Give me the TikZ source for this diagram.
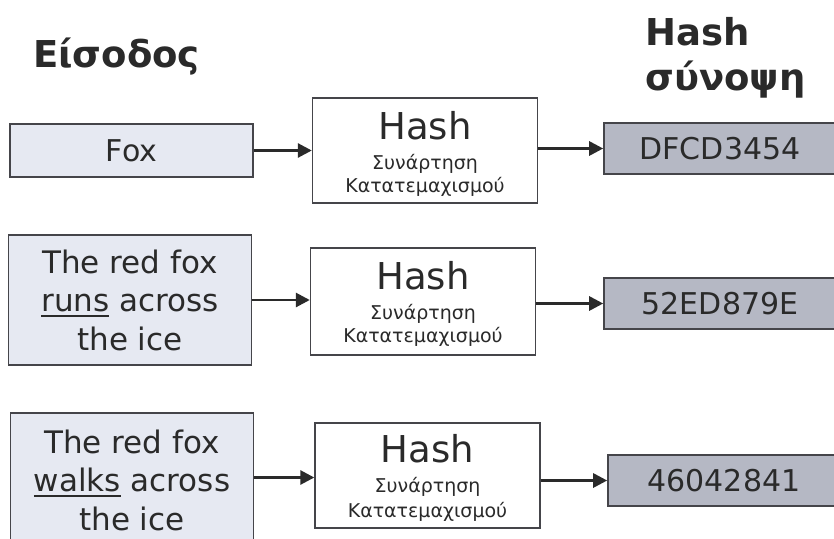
\documentclass[tikz,border=0pt]{standalone}
\usepackage{fontspec}
\setmainfont{DejaVu Sans}
\usetikzlibrary{arrows.meta}
\definecolor{infill}{HTML}{E6E9F2}
\definecolor{outfill}{HTML}{B5B8C4}
\definecolor{edge}{HTML}{45454A}
\definecolor{ink}{HTML}{2A2A2A}
\tikzset{
  inbox/.style={draw=edge, line width=1.6pt, fill=infill, minimum width=243pt, align=center, text=ink, inner sep=0pt,
     font=\fontsize{31}{38.5}\selectfont},
  hashbox/.style={draw=edge, line width=1.4pt, fill=white, minimum width=225pt, text=ink, inner sep=0pt},
  hashbig/.style={anchor=base, inner sep=0pt, text=ink, font=\fontsize{37}{40}\selectfont},
  hashsmall/.style={anchor=base, inner sep=0pt, text=ink, font=\fontsize{19}{22}\selectfont},
  outbox/.style={draw=edge, line width=1.6pt, fill=outfill, minimum width=236pt, minimum height=51pt, text=ink, inner sep=0pt,
     font=\fontsize{30}{34}\selectfont},
  conn/.style={draw=ink, line width=2.8pt, -{Triangle[length=14pt,width=14pt]}},
  head/.style={text=ink, font=\bfseries\fontsize{37}{44}\selectfont, anchor=base west, inner sep=0pt}
}
\newcommand{\myul}[1]{\setbox0\hbox{#1}\rlap{\rule[-5.5pt]{\wd0}{1.8pt}}\box0\relax}
\begin{document}
\begin{tikzpicture}[x=1pt,y=-1pt]
\useasboundingbox (0,0) rectangle (834,538);
\fill[white] (0,0) rectangle (834,538);
% headings
\node[head] (hin) at (33,67) {Είσοδος};
\node[head] (hout1) at (645,45) {Hash};
\node[head] (hout2) at (645,90) {σύνοψη};
% row 1
\node[inbox, minimum height=53pt, font=\fontsize{30}{36}\selectfont] (in1) at (131.5,150.5) {Fox};
\node[hashbox, minimum height=105pt] (h1) at (425,150.5) {};
\node[hashbig] (h1a) at ([yshift=-42pt]h1.north) {Hash};
\node[hashsmall] (h1b) at ([yshift=-72pt]h1.north) {Συνάρτηση};
\node[hashsmall] (h1c) at ([yshift=-95pt]h1.north) {Κατατεμαχισμού};
\node[outbox] (o1) at (722,148.5) {\hspace*{-4pt}DFCD3454};
% row 2
\node[inbox, minimum height=130pt] (in2) at (130,300) {The red fox\\\myul{runs} across\\the ice};
\node[hashbox, minimum height=107pt] (h2) at (423,301.5) {};
\node[hashbig] (h2a) at ([yshift=-42pt]h2.north) {Hash};
\node[hashsmall] (h2b) at ([yshift=-72pt]h2.north) {Συνάρτηση};
\node[hashsmall] (h2c) at ([yshift=-95pt]h2.north) {Κατατεμαχισμού};
\node[outbox] (o2) at (722,303.5) {\hspace*{-4pt}52ED879E};
% row 3
\node[inbox, minimum height=134pt] (in3) at (132,480) {The red fox\\\myul{walks} across\\the ice};
\node[hashbox, minimum height=105pt] (h3) at (427.5,475.5) {};
\node[hashbig] (h3a) at ([yshift=-40pt]h3.north) {Hash};
\node[hashsmall] (h3b) at ([yshift=-70pt]h3.north) {Συνάρτηση};
\node[hashsmall] (h3c) at ([yshift=-95pt]h3.north) {Κατατεμαχισμού};
\node[outbox] (o3) at (726,480.5) {\hspace*{-4pt}46042841};
% connectors
\draw[conn] (in1.east) -- (in1.east -| h1.west);
\draw[conn] (h1.east |- o1.west) -- (o1.west);
\draw[conn] (in2.east) -- (in2.east -| h2.west);
\draw[conn] (h2.east |- o2.west) -- (o2.west);
\draw[conn] (in3.east |- h3.west) ++(0,2) coordinate (c3) -- (c3 -| h3.west);
\draw[conn] (h3.east |- o3.west) -- (o3.west);
\end{tikzpicture}
\end{document}
